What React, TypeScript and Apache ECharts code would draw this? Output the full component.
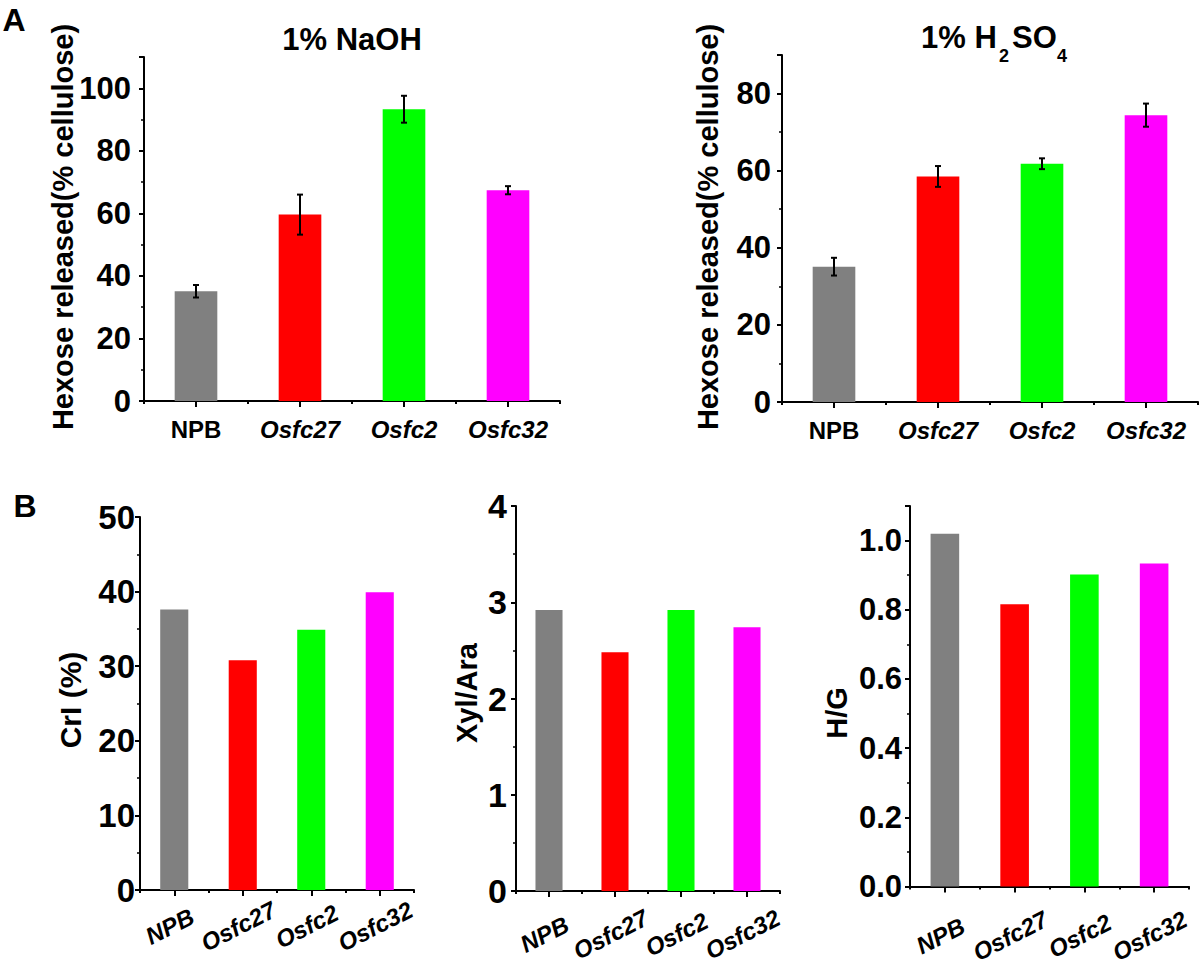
import React, { useEffect, useRef } from "react";
import * as echarts from "echarts";

const categories = ["NPB", "Osfc27", "Osfc2", "Osfc32"];
const barColors = ["#808080", "#ff0000", "#00ff00", "#ff00ff"];

const naohValues = [35.1, 59.6, 93.3, 67.4];
const naohErrors = [2.0, 6.4, 4.3, 1.3];
const h2so4Values = [35.1, 58.5, 61.8, 74.4];
const h2so4Errors = [2.3, 2.7, 1.4, 3.0];
const criValues = [37.6, 30.8, 34.9, 39.9];
const xylAraValues = [2.92, 2.48, 2.92, 2.74];
const hgValues = [1.02, 0.816, 0.902, 0.934];

const FONT = "'Liberation Sans', Arial, Helvetica, sans-serif";

type Panel = {
  grid: { left: number; top: number; width: number; height: number };
  values: number[];
  errors?: number[];
  max: number;
  interval: number;
  labelSize: number;
  labelMargin: number;
  decimals: number;
  xFont: number;
  xMargin: number;
  rotated: boolean;
};

const panels: Panel[] = [
  { grid: { left: 144, top: 57, width: 416, height: 344 }, values: naohValues, errors: naohErrors, max: 110, interval: 20, labelSize: 31, labelMargin: 13, decimals: 0, xFont: 24, xMargin: 16, rotated: false },
  { grid: { left: 782, top: 55, width: 416, height: 347 }, values: h2so4Values, errors: h2so4Errors, max: 90, interval: 20, labelSize: 31, labelMargin: 11, decimals: 0, xFont: 24, xMargin: 16, rotated: false },
  { grid: { left: 140, top: 517, width: 274, height: 373 }, values: criValues, max: 50, interval: 10, labelSize: 33, labelMargin: 5, decimals: 0, xFont: 24, xMargin: 34, rotated: true },
  { grid: { left: 516, top: 506, width: 264, height: 385 }, values: xylAraValues, max: 4, interval: 1, labelSize: 34, labelMargin: 9, decimals: 0, xFont: 24, xMargin: 41, rotated: true },
  { grid: { left: 910, top: 506, width: 279, height: 385 }, values: hgValues, max: 1.1, interval: 0.2, labelSize: 31, labelMargin: 8, decimals: 1, xFont: 24, xMargin: 47, rotated: true },
];

function buildOption() {
  const grids: any[] = [];
  const xAxes: any[] = [];
  const yAxes: any[] = [];
  const series: any[] = [];

  panels.forEach((p, g) => {
    grids.push({ ...p.grid, containLabel: false });
    xAxes.push({
      type: "category",
      gridIndex: g,
      data: categories,
      position: "bottom",
      axisLine: { show: true, onZero: false, lineStyle: { color: "#000", width: 2 } },
      axisTick: { show: true, alignWithLabel: true, length: 6, lineStyle: { color: "#000", width: 2 } },
      axisLabel: p.rotated
        ? {
            color: "#000",
            fontFamily: FONT,
            fontWeight: "bold",
            fontStyle: "italic",
            fontSize: p.xFont,
            rotate: 27,
            align: "center",
            verticalAlign: "middle",
            padding: [0, 10, 0, 0],
            margin: p.xMargin,
            interval: 0,
          }
        : {
            color: "#000",
            fontFamily: FONT,
            fontWeight: "bold",
            fontSize: p.xFont,
            margin: p.xMargin,
            interval: 0,
            formatter: (v: string) => (v === "NPB" ? "{n|" + v + "}" : "{i|" + v + "}"),
            rich: {
              n: { fontFamily: FONT, fontWeight: "bold", fontSize: p.xFont, color: "#000" },
              i: { fontFamily: FONT, fontWeight: "bold", fontStyle: "italic", fontSize: p.xFont, color: "#000" },
            },
          },
      splitLine: { show: false },
    });
    xAxes.push({
      type: "category",
      gridIndex: g,
      data: categories,
      position: "bottom",
      axisLine: { show: false },
      axisTick: { show: true, length: 3, lineStyle: { color: "#000", width: 2 } },
      axisLabel: { show: false },
      splitLine: { show: false },
    });
    yAxes.push({
      type: "value",
      gridIndex: g,
      min: 0,
      max: p.max,
      interval: p.interval,
      axisLine: { show: true, lineStyle: { color: "#000", width: 2 } },
      axisTick: { show: true, length: 5, lineStyle: { color: "#000", width: 2 } },
      minorTick: { show: true, splitNumber: 2, length: 3, lineStyle: { color: "#000", width: 1.5 } },
      splitLine: { show: false },
      minorSplitLine: { show: false },
      axisLabel: {
        color: "#000",
        fontFamily: FONT,
        fontWeight: "bold",
        fontSize: p.labelSize,
        margin: p.labelMargin,
        showMaxLabel: p.max % p.interval === 0,
        formatter: (v: number) => v.toFixed(p.decimals),
      },
    });
    series.push({
      type: "bar",
      xAxisIndex: 2 * g,
      yAxisIndex: g,
      barWidth: "41%",
      data: p.values.map((v, i) => ({ value: v, itemStyle: { color: barColors[i] } })),
    });
    if (p.errors) {
      const errs = p.errors;
      series.push({
        type: "custom",
        xAxisIndex: 2 * g,
        yAxisIndex: g,
        z: 10,
        encode: { x: 0, y: [1, 2] },
        data: p.values.map((v, i) => [i, v - errs[i], v + errs[i]]),
        renderItem: (params: any, api: any) => {
          const idx = api.value(0);
          const lo = api.coord([idx, api.value(1)]);
          const hi = api.coord([idx, api.value(2)]);
          const cx = lo[0];
          const w = 3;
          const st = { stroke: "#000", lineWidth: 2 };
          return {
            type: "group",
            children: [
              { type: "line", shape: { x1: cx, y1: hi[1], x2: cx, y2: lo[1] }, style: st },
              { type: "line", shape: { x1: cx - w, y1: hi[1], x2: cx + w, y2: hi[1] }, style: st },
              { type: "line", shape: { x1: cx - w, y1: lo[1], x2: cx + w, y2: lo[1] }, style: st },
            ],
          };
        },
      });
    }
  });

  const txt = (text: string, x: number, y: number, size: number, rot = 0, align = "center") => ({
    type: "text",
    x,
    y,
    rotation: rot,
    style: {
      text,
      fill: "#000",
      fontFamily: FONT,
      fontWeight: "bold",
      fontSize: size,
      textAlign: align,
      textVerticalAlign: "middle",
    },
  });

  const graphic: any[] = [
    txt("A", 14, 20, 32),
    txt("B", 25, 506, 32),
    txt("1% NaOH", 352, 39, 31),
    txt("1% H", 921, 37, 31, 0, "left"),
    txt("2", 999, 56, 18, 0, "left"),
    txt("SO", 1012, 37, 31, 0, "left"),
    txt("4", 1057, 56, 18, 0, "left"),
    txt("Hexose released(% cellulose)", 63, 227, 29, Math.PI / 2),
    txt("Hexose released(% cellulose)", 708, 227, 29, Math.PI / 2),
    txt("CrI (%)", 70, 700, 30, Math.PI / 2),
    txt("Xyl/Ara", 467, 693, 29, Math.PI / 2),
    txt("H/G", 837, 713, 29, Math.PI / 2),
  ];

  return {
    animation: false,
    backgroundColor: "#fff",
    grid: grids,
    xAxis: xAxes,
    yAxis: yAxes,
    series,
    graphic,
  };
}

export default function App() {
  const ref = useRef<HTMLDivElement>(null);
  useEffect(() => {
    if (!ref.current) return;
    const chart = echarts.init(ref.current, undefined, { renderer: "svg" });
    chart.setOption(buildOption() as any);
    return () => chart.dispose();
  }, []);
  return (
    <div
      ref={ref}
      style={{ position: "absolute", left: 0, top: 0, width: 1200, height: 966, background: "#fff" }}
    />
  );
}
